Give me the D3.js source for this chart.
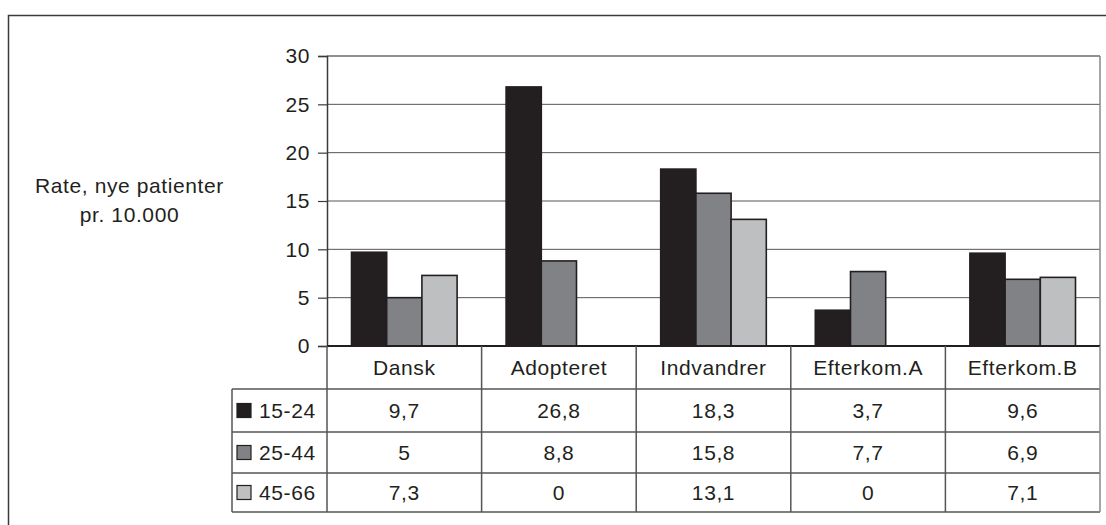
<!DOCTYPE html>
<html>
<head>
<meta charset="utf-8">
<script src="https://cdn.jsdelivr.net/npm/d3@7"></script>
<style>
  html, body { margin: 0; padding: 0; background: #fff; }
  svg { display: block; font-family: "Liberation Sans", Arial, sans-serif; }
  svg text { letter-spacing: 0.6px; }
</style>
</head>
<body>
<svg id="chart" width="1106" height="525"></svg>
<script>
// Rates of new patients per 10,000 by origin group and age band
const categories = ["Dansk", "Adopteret", "Indvandrer", "Efterkom.A", "Efterkom.B"];
const seriesNames = ["15-24", "25-44", "45-66"];
const values1524 = [9.7, 26.8, 18.3, 3.7, 9.6];
const values2544 = [5, 8.8, 15.8, 7.7, 6.9];
const values4566 = [7.3, 0, 13.1, 0, 7.1];
const yTicks = [0, 5, 10, 15, 20, 25, 30];
const yLabelLines = ["Rate, nye patienter", "pr. 10.000"];

const seriesValues = [values1524, values2544, values4566];
const fills = ["#231f20", "#808285", "#bdbfc1"];
const textColor = "#231f20";
const fontSize = 21;
const fmt = v => String(v).replace(".", ",");

const svg = d3.select("#chart");

// outer frame
svg.append("path")
  .attr("d", "M8.5,530 V15.5 H1110")
  .attr("fill", "none").attr("stroke", "#3a3a3a").attr("stroke-width", 1.5);

const plot = { left: 327, right: 1100, top: 56, bottom: 346 };
const rowEdges = [346, 389, 432, 473, 512];
const tableLeft = 232;

const x0 = d3.scaleBand().domain(categories).range([plot.left, plot.right]).padding(0);
const groupPad = 24.5;
const x1 = d3.scaleBand().domain(seriesNames)
  .range([groupPad, x0.bandwidth() - groupPad]).padding(0);
const y = d3.scaleLinear().domain([0, 30]).range([plot.bottom, plot.top]);

// grid lines
svg.append("g").selectAll("line").data(yTicks.filter(t => t > 0)).join("line")
  .attr("x1", plot.left).attr("x2", plot.right)
  .attr("y1", d => y(d)).attr("y2", d => y(d))
  .attr("stroke", "#555").attr("stroke-width", 1);

// plot border (top and right)
svg.append("line")
  .attr("x1", plot.right).attr("x2", plot.right)
  .attr("y1", plot.top).attr("y2", plot.bottom)
  .attr("stroke", "#888").attr("stroke-width", 1.5);
svg.append("line")
  .attr("x1", plot.left).attr("x2", plot.right)
  .attr("y1", plot.top).attr("y2", plot.top)
  .attr("stroke", "#888").attr("stroke-width", 1.5);

// bars
const groups = svg.append("g").selectAll("g").data(categories).join("g")
  .attr("transform", d => `translate(${x0(d)},0)`);
groups.selectAll("rect")
  .data((c, i) => seriesNames.map((s, k) => ({ s, k, v: seriesValues[k][i] })))
  .join("rect")
  .filter(d => d.v > 0)
  .attr("x", d => x1(d.s))
  .attr("width", x1.bandwidth())
  .attr("y", d => y(d.v))
  .attr("height", d => y(0) - y(d.v))
  .attr("fill", d => fills[d.k])
  .attr("stroke", "#231f20").attr("stroke-width", 1.6);

// y axis
const yAxis = d3.axisLeft(y).tickValues(yTicks).tickSize(9).tickPadding(8);
const ya = svg.append("g").attr("transform", `translate(${plot.left},0)`).call(yAxis);
ya.select(".domain").attr("stroke", "#3a3a3a").attr("stroke-width", 1.5);
ya.selectAll(".tick line").attr("stroke", "#3a3a3a").attr("stroke-width", 1.2);
ya.selectAll(".tick text").attr("font-size", fontSize).attr("fill", textColor)
  .attr("font-family", "'Liberation Sans', Arial, sans-serif");

// zero line
svg.append("line")
  .attr("x1", plot.left).attr("x2", plot.right)
  .attr("y1", y(0)).attr("y2", y(0))
  .attr("stroke", "#231f20").attr("stroke-width", 2);

// y label
const yl = svg.append("text").attr("text-anchor", "middle")
  .attr("font-size", fontSize).attr("fill", textColor);
yLabelLines.forEach((t, i) => {
  yl.append("tspan").attr("x", 129.5).attr("y", 193 + i * 29).text(t);
});

// data table
const table = svg.append("g");
const tableStroke = "#555";
// horizontal rules
rowEdges.slice(1).forEach(ry => {
  table.append("line")
    .attr("x1", tableLeft).attr("x2", plot.right)
    .attr("y1", ry).attr("y2", ry)
    .attr("stroke", tableStroke).attr("stroke-width", 1.5);
});
// vertical rules
const colEdges = categories.map(c => x0(c)).concat([plot.right]);
colEdges.forEach((cx, i) => {
  table.append("line")
    .attr("x1", cx).attr("x2", cx)
    .attr("y1", rowEdges[0])
    .attr("y2", rowEdges[rowEdges.length - 1])
    .attr("stroke", i === colEdges.length - 1 ? "#888" : tableStroke).attr("stroke-width", 1.5);
});
table.append("line")
  .attr("x1", tableLeft).attr("x2", tableLeft)
  .attr("y1", rowEdges[1]).attr("y2", rowEdges[rowEdges.length - 1])
  .attr("stroke", tableStroke).attr("stroke-width", 1.5);

// category header
table.selectAll("text.cat").data(categories).join("text")
  .attr("class", "cat")
  .attr("x", d => x0(d) + x0.bandwidth() / 2)
  .attr("y", (rowEdges[0] + rowEdges[1]) / 2)
  .attr("dy", "0.35em").attr("text-anchor", "middle")
  .attr("font-size", fontSize).attr("fill", textColor)
  .text(d => d);

// series rows: legend key + values
seriesNames.forEach((s, k) => {
  const cy = (rowEdges[k + 1] + rowEdges[k + 2]) / 2;
  table.append("rect")
    .attr("x", 237).attr("y", cy - 7).attr("width", 14).attr("height", 14)
    .attr("fill", fills[k]).attr("stroke", "#231f20").attr("stroke-width", 1.2);
  table.append("text")
    .attr("x", 259).attr("y", cy).attr("dy", "0.35em")
    .attr("font-size", fontSize).attr("fill", textColor).text(s);
  table.selectAll(null).data(categories).join("text")
    .attr("x", d => x0(d) + x0.bandwidth() / 2)
    .attr("y", cy).attr("dy", "0.35em").attr("text-anchor", "middle")
    .attr("font-size", fontSize).attr("fill", textColor)
    .text((d, i) => fmt(seriesValues[k][i]));
});
</script>
</body>
</html>
